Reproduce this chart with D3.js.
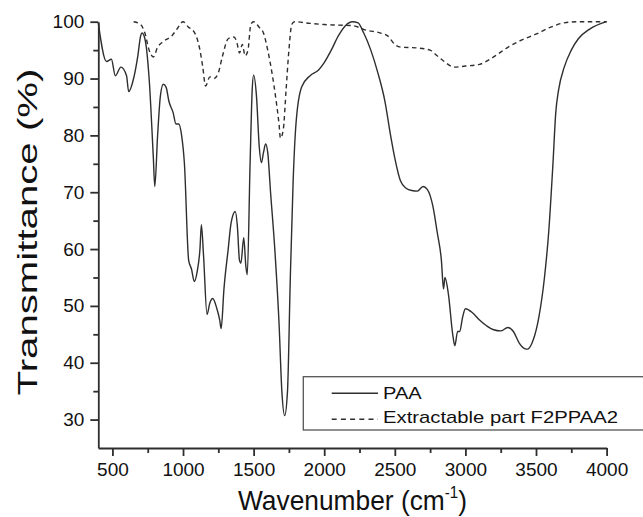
<!DOCTYPE html>
<html>
<head>
<meta charset="utf-8">
<script src="https://cdn.jsdelivr.net/npm/d3@7"></script>
<style>
  body { margin: 0; background: #fff; }
  svg { font-family: "Liberation Sans", Arial, sans-serif; }
</style>
</head>
<body>
<svg id="chart" width="643" height="517"></svg>
<script>
// PAA spectrum [wavenumber, transmittance]
const paaWave = [400, 458, 493, 520, 560, 600, 615, 650, 680, 700, 710, 730, 760, 790, 800, 820, 840, 860, 880, 900, 930, 950, 970, 990, 1010, 1040, 1060, 1080, 1100, 1120, 1130, 1145, 1170, 1190, 1210, 1240, 1260, 1270, 1290, 1320, 1340, 1370, 1385, 1400, 1410, 1430, 1445, 1455, 1475, 1490, 1500, 1520, 1540, 1555, 1570, 1585, 1600, 1620, 1650, 1680, 1700, 1720, 1740, 1760, 1780, 1800, 1840, 1900, 1960, 2000, 2050, 2100, 2150, 2200, 2240, 2280, 2330, 2380, 2430, 2470, 2500, 2540, 2580, 2620, 2660, 2700, 2730, 2770, 2800, 2830, 2845, 2855, 2880, 2910, 2925, 2945, 2960, 2980, 3000, 3050, 3100, 3150, 3200, 3250, 3300, 3340, 3380, 3420, 3440, 3480, 3520, 3560, 3590, 3620, 3640, 3660, 3700, 3750, 3800, 3880, 4000];
const paaT = [99.8, 93, 93.4, 90.5, 92, 90.5, 87.7, 90, 94, 97.5, 98, 97, 90, 76, 71, 80, 87, 89, 88.5, 86, 84, 82, 82, 80, 75, 58, 56.5, 54.3, 56, 60, 64.3, 59, 48.5, 50.5, 51.3, 49.5, 47.5, 46, 53, 60, 64.5, 66.6, 64, 58, 57.5, 62, 57, 55.5, 75, 88, 90.6, 87, 78, 75.2, 77, 78.5, 77, 70, 60, 47, 35, 30.7, 35, 55, 72, 82, 88.5, 90.5, 91.5, 92.8, 95, 97.5, 99.3, 100, 99.8, 98, 95, 91, 86, 80, 76, 72, 70.7, 70.3, 70.2, 71, 70.5, 67.5, 63, 58, 53, 55, 52, 45, 43, 45.5, 45.5, 48, 49.5, 48.8, 47.5, 46.5, 45.8, 45.6, 46.2, 45.5, 43.5, 42.5, 42.4, 44, 48, 55, 63, 75, 84, 88, 92, 95, 97, 98.7, 100];

// Extractable part F2PPAA2
const extWave = [650, 700, 730, 760, 790, 820, 860, 920, 960, 1000, 1040, 1070, 1100, 1120, 1140, 1160, 1190, 1220, 1250, 1280, 1320, 1360, 1380, 1400, 1420, 1440, 1460, 1480, 1500, 1540, 1570, 1600, 1630, 1660, 1680, 1690, 1710, 1730, 1750, 1770, 1790, 1900, 2000, 2100, 2200, 2300, 2400, 2450, 2500, 2550, 2650, 2750, 2800, 2850, 2920, 3000, 3100, 3200, 3300, 3400, 3500, 3600, 3700, 3800, 4000];
const extT = [100, 99.5, 98, 95, 93.8, 95.5, 96.5, 97.5, 98.8, 100, 99, 98.5, 97, 95, 92, 88.7, 90.3, 90, 91, 94, 97, 97.3, 96.5, 94.5, 96, 94, 95, 99.5, 100, 99, 98, 95, 91, 86, 82, 79.5, 81, 88, 95, 99.5, 100, 99.7, 99.5, 99.4, 99.3, 98.5, 98, 97.5, 96, 95.5, 95.4, 95, 94, 93, 92, 92.2, 92.5, 93.8, 95.5, 96.8, 97.8, 99, 99.8, 100, 100];

const xTicks = [500, 1000, 1500, 2000, 2500, 3000, 3500, 4000];
const yTicks = [30, 40, 50, 60, 70, 80, 90, 100];
const seriesNames = ["PAA", "Extractable part F2PPAA2"];

const svg = d3.select("#chart");
const ink = "#2e2e2e";
const plotLeft = 98.3, plotRight = 606.6, plotTop = 21.7, plotBottom = 448;

const x = d3.scaleLinear().domain([400, 4000]).range([plotLeft, plotRight]);
const y = d3.scaleLinear().domain([25, 100]).range([plotBottom, plotTop]);

const line = d3.line()
    .x(d => x(d[0]))
    .y(d => y(d[1]))
    .curve(d3.curveMonotoneX);

svg.append("path")
    .datum(extWave.map((w, i) => [w, extT[i]]))
    .attr("d", line)
    .attr("fill", "none")
    .attr("stroke", ink)
    .attr("stroke-width", 1.4)
    .attr("stroke-dasharray", "4.5,3.5");

svg.append("path")
    .datum(paaWave.map((w, i) => [w, paaT[i]]))
    .attr("d", line)
    .attr("fill", "none")
    .attr("stroke", ink)
    .attr("stroke-width", 1.4);

// axes
svg.append("g")
    .attr("transform", `translate(0,${plotBottom})`)
    .call(d3.axisBottom(x).tickValues(xTicks).tickFormat(d3.format("d")).tickSize(8).tickPadding(7).tickSizeOuter(0));
svg.append("g")
    .attr("transform", `translate(0,${plotBottom})`)
    .call(d3.axisBottom(x).tickValues(d3.range(750, 4000, 500)).tickSize(5).tickFormat("").tickSizeOuter(0))
    .select(".domain").remove();

svg.append("g")
    .attr("transform", `translate(${plotLeft},0)`)
    .call(d3.axisLeft(y).tickValues(yTicks).tickSize(8).tickPadding(6).tickSizeOuter(0));
svg.append("g")
    .attr("transform", `translate(${plotLeft},0)`)
    .call(d3.axisLeft(y).tickValues(d3.range(35, 100, 10)).tickSize(5).tickFormat("").tickSizeOuter(0))
    .select(".domain").remove();

svg.selectAll(".domain, .tick line").attr("stroke", ink).attr("stroke-width", 1.8);
svg.selectAll(".tick text")
    .attr("fill", "#111")
    .style("font-size", "19px");

// stretch a text node along its own direction to a measured length
function fitWidth(sel, target) {
    const w = sel.node().getBBox().width;
    return target / w;
}

// axis titles
const xt = svg.append("text")
    .attr("x", 0)
    .attr("y", 0)
    .attr("fill", "#111")
    .style("font-size", "28px");
xt.append("tspan").text("Wavenumber (cm");
xt.append("tspan").attr("dy", -12).style("font-size", "16px").text("-1");
xt.append("tspan").attr("dy", 12).text(")");
xt.attr("transform", `translate(238,510) scale(${fitWidth(xt, 229)},1)`);

const yt = svg.append("text")
    .attr("text-anchor", "middle")
    .attr("fill", "#111")
    .style("font-size", "28px")
    .text("Transmittance (%)");
yt.attr("transform", `translate(37,232) rotate(-90) scale(${fitWidth(yt, 327)},1)`);

// legend
const lg = svg.append("g");
lg.append("rect")
    .attr("x", 303.3)
    .attr("y", 376.7)
    .attr("width", 345)
    .attr("height", 53.3)
    .attr("fill", "#fff")
    .attr("stroke", "#555")
    .attr("stroke-width", 1.3);

const legendWidths = [38.7, 235];
seriesNames.forEach((name, i) => {
    const ly = 393.3 + i * 26;
    lg.append("line")
        .attr("x1", 331.7).attr("x2", 378)
        .attr("y1", ly).attr("y2", ly)
        .attr("stroke", ink)
        .attr("stroke-width", 1.4)
        .attr("stroke-dasharray", i === 1 ? "5,4.2" : null);
    lg.append("text")
        .attr("x", 383)
        .attr("y", 399 + i * 24.3)
        .attr("fill", "#111")
        .attr("textLength", legendWidths[i])
        .attr("lengthAdjust", "spacingAndGlyphs")
        .style("font-size", "17px")
        .text(name);
});
</script>
</body>
</html>
